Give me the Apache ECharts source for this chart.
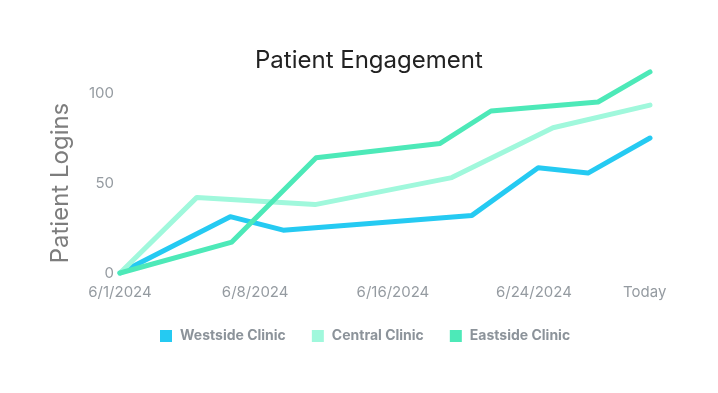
<!DOCTYPE html>
<html>
<head>
<meta charset="utf-8">
<script src="https://cdn.jsdelivr.net/npm/echarts@6/dist/echarts.min.js"></script>
<style>
  html, body { margin: 0; padding: 0; background: #fff; }
  #chart { width: 718px; height: 393px; }
</style>
</head>
<body>
<div id="chart"></div>
<script>
// x positions are relative positions along the time span (0 = 6/1/2024, 100 = today)
const tickPositions = [0, 25.5, 51.5, 78.1, 99];
const tickLabels = ['6/1/2024', '6/8/2024', '6/16/2024', '6/24/2024', 'Today'];

const seriesNames = ['Westside Clinic', 'Central Clinic', 'Eastside Clinic'];

const westsideX = [0, 20.8, 30.8, 66.4, 78.9, 88.3, 100];
const westsideY = [0, 31.3, 23.8, 32, 58.5, 55.5, 75];

const centralX = [0, 14.5, 36.8, 62.6, 81.7, 100];
const centralY = [0, 42, 38, 53, 80.7, 93.3];

const eastsideX = [0, 21.1, 37, 60.4, 70, 90.2, 100];
const eastsideY = [0, 17.2, 64, 72, 90, 95, 111.7];

const colors = ['#25caf2', '#a0f8dc', '#4de9b8'];

function pairs(xs, ys) { return xs.map((x, i) => [x, ys[i]]); }

const chart = echarts.init(document.getElementById('chart'), null, { renderer: 'canvas' });
const font = 'Inter, "Noto Sans", sans-serif';

const mk = (name, data, color) => ({
  name, type: 'line', data, clip: false, showSymbol: false, symbol: 'none',
  lineStyle: { width: 5, color, cap: 'round', join: 'round' },
  itemStyle: { color }
});

chart.setOption({
  animation: false,
  color: colors,
  title: {
    text: 'Patient Engagement', left: 250, top: 44,
    textStyle: { fontFamily: font, fontSize: 24, fontWeight: 'normal', color: '#222' }
  },
  legend: {
    bottom: 45, left: 155, itemWidth: 12, itemHeight: 12, itemGap: 26,
    icon: 'rect',
    data: seriesNames,
    textStyle: { fontFamily: font, fontSize: 14, fontWeight: 'bold', color: '#8c939a', padding: [0, 0, 0, 3] }
  },
  grid: { left: 120, right: 68, top: 93, bottom: 120, containLabel: false },
  xAxis: {
    type: 'value', min: 0, max: 100,
    axisLine: { show: false }, axisTick: { show: false }, splitLine: { show: false },
    axisLabel: {
      customValues: tickPositions,
      formatter: (v) => { const i = tickPositions.indexOf(v); return i >= 0 ? tickLabels[i] : ''; },
      fontFamily: font, fontSize: 15, color: '#959ba1', margin: 12,
      showMinLabel: true, showMaxLabel: true, hideOverlap: false
    }
  },
  yAxis: {
    type: 'value', min: 0, max: 100, interval: 50,
    name: 'Patient Logins', nameLocation: 'middle', nameGap: 47,
    nameTextStyle: { fontFamily: font, fontSize: 24, color: '#7d7d7d' },
    axisLine: { show: false }, axisTick: { show: false }, splitLine: { show: false },
    axisLabel: { fontFamily: font, fontSize: 15, color: '#959ba1', margin: 6 }
  },
  series: [
    mk(seriesNames[0], pairs(westsideX, westsideY), colors[0]),
    mk(seriesNames[1], pairs(centralX, centralY), colors[1]),
    mk(seriesNames[2], pairs(eastsideX, eastsideY), colors[2])
  ]
});
</script>
</body>
</html>
